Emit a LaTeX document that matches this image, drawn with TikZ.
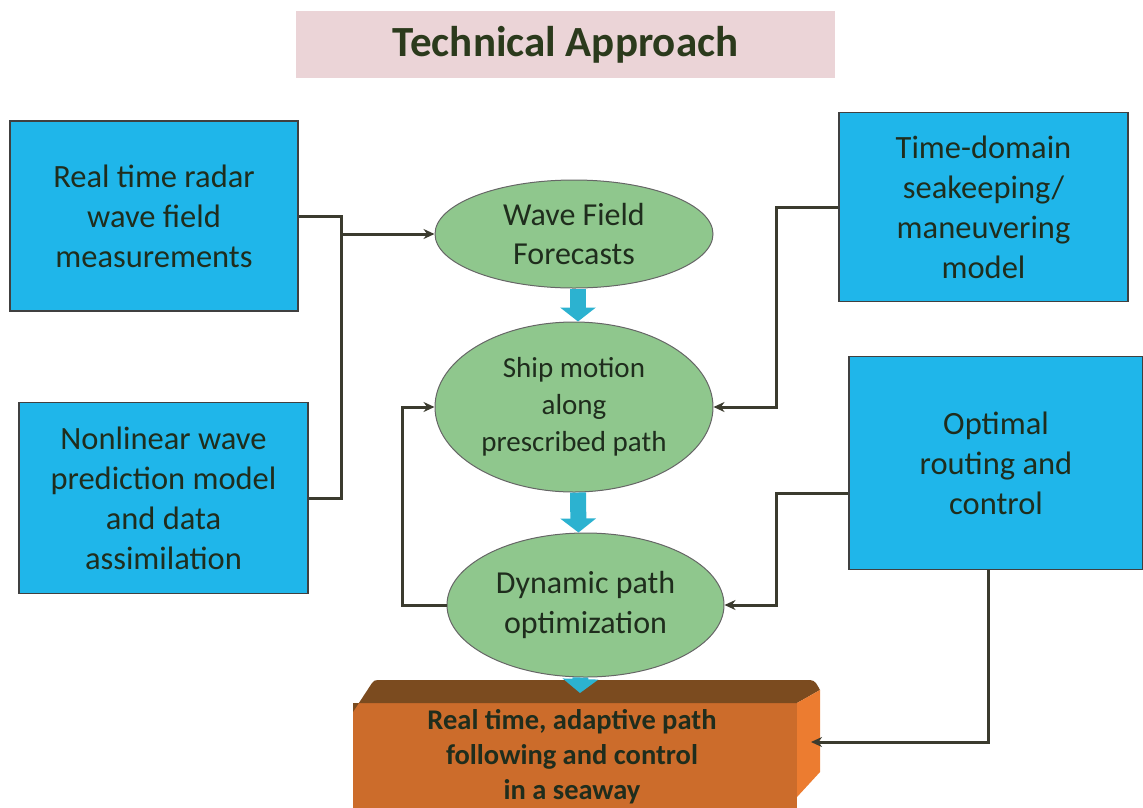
\documentclass[tikz,border=0pt]{standalone}
\usepackage{fontspec}
\setmainfont{Carlito}
\usepackage{tikz}
\usetikzlibrary{shapes.geometric, arrows.meta}
\usepackage{xcolor}
\definecolor{boxblue}{HTML}{1FB6EA}
\definecolor{ovalgreen}{HTML}{8FC78D}
\definecolor{titlepink}{HTML}{EBD4D7}
\definecolor{inkdark}{HTML}{1F2D1D}
\definecolor{titleink}{HTML}{2B3A1C}
\definecolor{wirecol}{HTML}{3B3B2E}
\definecolor{fatcyan}{HTML}{2CB2D0}
\definecolor{brickfront}{HTML}{CC6C2B}
\definecolor{bricktop}{HTML}{7B4B1F}
\definecolor{brickside}{HTML}{EC7C30}

\tikzset{
    inbox/.style={draw=black!75, line width=1.5pt, fill=boxblue, text=inkdark, align=center,
        inner sep=0pt, font=\fontsize{32.5}{40}\selectfont},
    oval/.style={ellipse, draw=black!60, line width=1pt, fill=ovalgreen, text=inkdark, align=center,
        inner sep=0pt, minimum width=278pt},
    wire/.style={draw=wirecol, line width=3pt, -{Stealth[length=11pt,width=10pt]}},
    plain/.style={draw=wirecol, line width=3pt},
    fat/.style={draw=fatcyan, line width=16pt, -{Triangle[length=14pt,width=35pt]}}
}

\begin{document}
\begin{tikzpicture}[x=1pt, y=-1pt]
    \useasboundingbox (0,0) rectangle (1143,807);
    \node[fill=titlepink, minimum width=539pt, minimum height=67pt, text=titleink,
        font=\bfseries\fontsize{43}{48}\selectfont] (title) at (565.5,44.5) {Technical Approach};

    \node[inbox, minimum width=288pt, minimum height=190pt] (radar) at (154,216)
        {Real time radar\\wave field\\measurements};
    \node[inbox, minimum width=289pt, minimum height=191pt] (model) at (163.5,498)
        {Nonlinear wave\\prediction model\\and data\\assimilation};
    \node[inbox, minimum width=289pt, minimum height=189pt] (seakeep) at (983.5,207)
        {Time-domain\\seakeeping/\\maneuvering\\model};
    \node[inbox, minimum width=294pt, minimum height=213pt] (routing) at (996,463)
        {Optimal\\routing and\\control};

    \node[oval, minimum height=108pt, font=\fontsize{32}{39}\selectfont] (forecast) at (574,234)
        {Wave Field\\Forecasts};
    \node[oval, minimum height=170pt, font=\fontsize{29}{37}\selectfont] (motion) at (574,407)
        {Ship motion\\along\\prescribed path};
    \node[oval, minimum width=277pt, minimum height=144pt, font=\fontsize{32}{40}\selectfont] (optim) at (585.5,605)
        {Dynamic path\\optimization};

    \fill[brickfront] (353,703) rectangle (797,830);
    \fill[bricktop] (353,712) -- (372,683) to[out=60,in=180] (378,680) -- (810,680)
        to[out=0,in=120] (820,690) -- (797,703) -- (353,703) -- cycle;
    \fill[brickside] (797,703) -- (820,690) -- (820,772) -- (797,797) -- cycle;
    \node[text=inkdark, align=center, font=\bfseries\fontsize{28.5}{35}\selectfont] (result) at (572,757)
        {Real time, adaptive path\\following and control\\in a seaway};
    \coordinate (resin) at (811,742);
    \coordinate (blocktop) at (580,693);
    \coordinate (split) at (341,234);

    \draw[plain] (radar.east) -- ++(43,0) |- (model.east);
    \draw[wire] (split) -- (forecast.west);
    \draw[wire] (seakeep.west) -- ++(-62,0) |- (motion.east);
    \draw[wire] ([yshift=-30pt]routing.west) -- ++(-72,0) |- (optim.east);
    \draw[wire] (optim.west) -- ++(-44,0) |- (motion.west);
    \draw[wire] ([xshift=-8pt]routing.south) |- (resin);

    \draw[fat] ([xshift=4pt]forecast.south) -- ([xshift=4pt]motion.north);
    \draw[fat] ([xshift=4pt]motion.south) -- ([xshift=-7pt]optim.north);
    \draw[fat] ([xshift=-5pt]optim.south) -- (blocktop);
\end{tikzpicture}
\end{document}
